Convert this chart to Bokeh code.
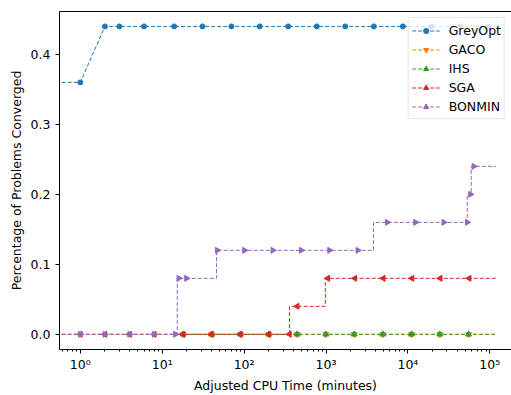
import math
from bokeh.plotting import figure
from bokeh.models import (Range1d, LogAxis, FixedTicker, CustomJSTickFormatter,
                          NumeralTickFormatter, Legend, LegendItem)
from bokeh.embed import file_html
from bokeh.resources import INLINE

# ---------------- data ----------------
series_names = ["GreyOpt", "GACO", "IHS", "SGA", "BONMIN"]

greyopt_x = [0.5, 1, 2, 118000]
greyopt_y = [0.36, 0.36, 0.44, 0.44]
greyopt_mx = [1, 2, 3, 6, 14, 31, 70, 155, 345, 772, 1715, 3835, 8670, 19360, 43300, 96400]
greyopt_my = [0.36, 0.44, 0.44, 0.44, 0.44, 0.44, 0.44, 0.44, 0.44, 0.44, 0.44, 0.44, 0.44, 0.44, 0.44, 0.44]

gaco_x = [16, 118000]
gaco_y = [0.0, 0.0]
gaco_mx = [18, 40, 90, 200, 445, 995, 2210, 4940, 11070, 24500, 55000]
gaco_my = [0.0] * 11

ihs_x = [16, 118000]
ihs_y = [0.0, 0.0]
ihs_mx = [18, 40, 90, 200, 445, 995, 2210, 4940, 11070, 24500, 55000]
ihs_my = [0.0] * 11

sga_x = [0.5, 358, 980, 118000]          # step (post) breakpoints
sga_y = [0.0, 0.04, 0.08, 0.08]
sga_mx = [1, 2, 4, 8, 18, 40, 90, 200, 358, 445, 1050, 2250, 5000, 11200, 24800, 56000]
sga_my = [0.0, 0.0, 0.0, 0.0, 0.0, 0.0, 0.0, 0.0, 0.0, 0.04, 0.08, 0.08, 0.08, 0.08, 0.08, 0.08]

bonmin_x = [0.5, 15.25, 46, 3800, 53000, 59300, 118000]   # step (post) breakpoints
bonmin_y = [0.0, 0.08, 0.12, 0.16, 0.20, 0.24, 0.24]
bonmin_mx = [1, 2, 4, 8, 14.5, 15.95, 19.8, 46.9, 101, 224, 498, 1104, 2445,
             5590, 12380, 27430, 52970, 58100, 63800]
bonmin_my = [0.0, 0.0, 0.0, 0.0, 0.0, 0.08, 0.08, 0.12, 0.12, 0.12, 0.12, 0.12, 0.12,
             0.16, 0.16, 0.16, 0.16, 0.20, 0.24]

x_ticks = [1, 10, 100, 1000, 10000, 100000]
x_tick_labels = ["10\u2070", "10\u00b9", "10\u00b2", "10\u00b3", "10\u2074", "10\u2075"]
y_ticks = [0.0, 0.1, 0.2, 0.3, 0.4]

x_label = "Adjusted CPU Time (minutes)"
y_label = "Percentage of Problems Converged"

# ---------------- styling ----------------
colors = {"GreyOpt": "#1f77b4", "GACO": "#ff7f0e", "IHS": "#2ca02c",
          "SGA": "#d62728", "BONMIN": "#9467bd"}
FONT = "DejaVu Sans"
FS = "12.5px"
DASH = "4 2"

p = figure(width=511, height=395, x_axis_type="log",
           x_range=Range1d(0.557, 184000), y_range=Range1d(-0.0217, 0.4613),
           output_backend="svg", toolbar_location=None,
           min_border_left=59, min_border_right=0, min_border_top=11,
           min_border_bottom=43)
p.outline_line_color = None
p.xgrid.visible = False
p.ygrid.visible = False
p.background_fill_color = "white"
p.border_fill_color = "white"

minor = [k * 10 ** d for d in range(-1, 6) for k in range(2, 10)]
xa = p.xaxis[0]
xa.ticker = FixedTicker(ticks=x_ticks, minor_ticks=minor)
xa.formatter = CustomJSTickFormatter(args=dict(vals=x_ticks, labs=x_tick_labels), code="""
const i = vals.findIndex(v => Math.abs(v - tick) <= 1e-6 * v);
return i >= 0 ? labs[i] : '';
""")
ya = p.yaxis[0]
ya.ticker = FixedTicker(ticks=y_ticks, minor_ticks=[])
ya.formatter = NumeralTickFormatter(format="0.0")

for ax in (xa, ya):
    ax.axis_line_color = "black"
    ax.axis_line_width = 1
    ax.major_tick_line_color = "black"
    ax.minor_tick_line_color = "black"
    ax.major_tick_out = 4
    ax.major_tick_in = 0
    ax.minor_tick_out = 2
    ax.minor_tick_in = 0
    ax.major_label_text_font = FONT
    ax.major_label_text_font_size = FS
    ax.major_label_text_color = "black"
    ax.axis_label_text_font = FONT
    ax.axis_label_text_font_size = FS
    ax.axis_label_text_font_style = "normal"
    ax.axis_label_text_color = "black"

xa.axis_label = x_label
xa.major_label_standoff = 3
xa.axis_label_standoff = 3
ya.axis_label = y_label
ya.major_label_standoff = 5
ya.axis_label_standoff = 4

# top spine
top = LogAxis(ticker=FixedTicker(ticks=[], minor_ticks=[]), axis_line_color="black",
              major_tick_out=0, major_tick_in=0, minor_tick_out=0, minor_tick_in=0,
              major_label_text_font_size="0px")
p.add_layout(top, "above")

items = []

def add_series(name, lx, ly, mx, my, marker, angle, size, step=True):
    c = colors[name]
    if step:
        lr = p.step(lx, ly, mode="after", line_color=c, line_width=1, line_dash=DASH)
    else:
        lr = p.line(lx, ly, line_color=c, line_width=1, line_dash=DASH)
    sr = p.scatter(mx, my, marker=marker, angle=angle, size=size,
                   fill_color=c, line_color=c)
    items.append(LegendItem(label=name, renderers=[lr, sr]))

add_series("GreyOpt", greyopt_x, greyopt_y, greyopt_mx, greyopt_my, "circle", 0, 5, step=False)
add_series("GACO", gaco_x, gaco_y, gaco_mx, gaco_my, "inverted_triangle", 0, 6)
add_series("IHS", ihs_x, ihs_y, ihs_mx, ihs_my, "triangle", 0, 6)
add_series("SGA", sga_x, sga_y, sga_mx, sga_my, "triangle", math.pi / 2, 6)
add_series("BONMIN", bonmin_x, bonmin_y, bonmin_mx, bonmin_my, "triangle", -math.pi / 2, 6)

legend = Legend(items=items, location="top_right", margin=6, padding=3, spacing=1,
                glyph_width=28, glyph_height=13, label_height=18, label_standoff=9,
                label_text_font=FONT, label_text_font_size=FS, label_text_color="black",
                border_line_color="#cccccc", border_line_width=1,
                background_fill_color="white", background_fill_alpha=0.8)
p.add_layout(legend)

open("out.html", "w").write(file_html(p, INLINE))
